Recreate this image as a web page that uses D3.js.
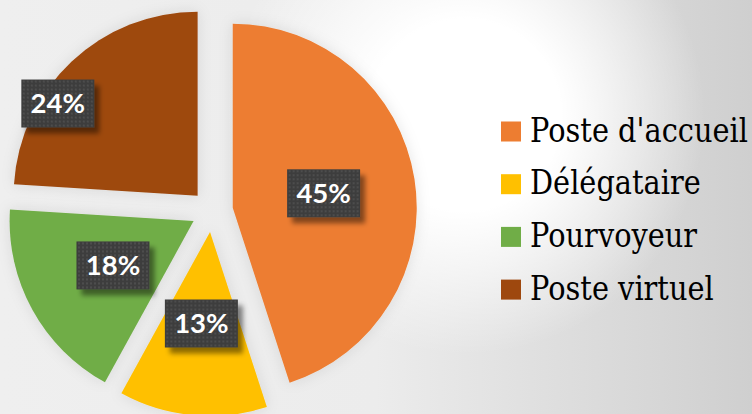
<!DOCTYPE html>
<html>
<head>
<meta charset="utf-8">
<script src="https://cdn.jsdelivr.net/npm/d3@7"></script>
<style>
  html, body { margin: 0; padding: 0; background: #fff; }
  svg { display: block; }
</style>
</head>
<body>
<svg width="752" height="414"></svg>
<script>
// chart data
const categories = ["Poste d'accueil", "Délégataire", "Pourvoyeur", "Poste virtuel"];
const values = [45, 13, 18, 24];
const colors = ["#ED7D31", "#FFC000", "#70AD47", "#9E480E"];

document.addEventListener('DOMContentLoaded', () => {
    const svg = d3.select('svg');
    const width = 752;
    const height = 414;

    const cx = 212, cy = 211;
    const radius = 184;
    const explode = 21;

    const defs = svg.append('defs');

    // background: light grey, brighter toward the middle-right
    const lin = defs.append('linearGradient').attr('id', 'bgLin')
        .attr('gradientUnits', 'userSpaceOnUse')
        .attr('x1', 0).attr('y1', 0).attr('x2', width).attr('y2', 0);
    lin.append('stop').attr('offset', 0).attr('stop-color', '#efefef');
    lin.append('stop').attr('offset', 0.5).attr('stop-color', '#ececec');
    lin.append('stop').attr('offset', 1).attr('stop-color', '#cfcfcf');

    const rad = defs.append('radialGradient').attr('id', 'bgRad')
        .attr('gradientUnits', 'userSpaceOnUse')
        .attr('cx', 465).attr('cy', 115).attr('r', 240);
    rad.append('stop').attr('offset', 0).attr('stop-color', '#ffffff').attr('stop-opacity', 1);
    rad.append('stop').attr('offset', 0.4).attr('stop-color', '#ffffff').attr('stop-opacity', 1);
    rad.append('stop').attr('offset', 1).attr('stop-color', '#ffffff').attr('stop-opacity', 0);

    svg.append('rect').attr('width', width).attr('height', height).attr('fill', 'url(#bgLin)');
    svg.append('rect').attr('width', width).attr('height', height).attr('fill', 'url(#bgRad)');

    // soft halo around slices
    const halo = defs.append('filter').attr('id', 'halo')
        .attr('x', '-20%').attr('y', '-20%').attr('width', '140%').attr('height', '140%');
    halo.append('feDropShadow').attr('dx', 0).attr('dy', 0)
        .attr('stdDeviation', 7).attr('flood-color', '#000').attr('flood-opacity', 0.1);

    // label box shadow
    const boxShadow = defs.append('filter').attr('id', 'boxShadow')
        .attr('x', '-20%').attr('y', '-20%').attr('width', '150%').attr('height', '150%');
    boxShadow.append('feDropShadow').attr('dx', 5).attr('dy', 6)
        .attr('stdDeviation', 2.5).attr('flood-color', '#000').attr('flood-opacity', 0.45);

    // dotted texture for label boxes
    const pat = defs.append('pattern').attr('id', 'dots')
        .attr('patternUnits', 'userSpaceOnUse').attr('width', 4).attr('height', 4);
    pat.append('rect').attr('width', 4).attr('height', 4).attr('fill', '#3d3d3d');
    pat.append('circle').attr('cx', 2).attr('cy', 2).attr('r', 0.9).attr('fill', '#555555');

    const pie = d3.pie().sort(null).value(d => d.value);
    const arc = d3.arc().innerRadius(0).outerRadius(radius);

    const data = categories.map((c, i) => ({ name: c, value: values[i], color: colors[i] }));
    const arcs = pie(data);
    const total = d3.sum(values);

    const offset = (angle, dist) => [Math.sin(angle) * dist, -Math.cos(angle) * dist];

    const pieGroup = svg.append('g').attr('transform', `translate(${cx},${cy})`);

    pieGroup.selectAll('path.slice')
        .data(arcs)
        .enter().append('path')
        .attr('class', 'slice')
        .attr('d', arc)
        .attr('fill', d => d.data.color)
        .attr('filter', 'url(#halo)')
        .attr('transform', d => {
            const mid = (d.startAngle + d.endAngle) / 2;
            const [dx, dy] = offset(mid, explode);
            return `translate(${dx},${dy})`;
        });

    // label placement (the last label was dragged outward in the original)
    const labelPlace = {
        "Poste virtuel": { r: 0.91, angle: 303.4 * Math.PI / 180 }
    };
    const boxW = 73, boxH = 48;

    const labels = pieGroup.selectAll('g.label')
        .data(arcs)
        .enter().append('g')
        .attr('class', 'label')
        .attr('transform', d => {
            const mid = (d.startAngle + d.endAngle) / 2;
            const [ex, ey] = offset(mid, explode);
            const p = labelPlace[d.data.name];
            const [lx, ly] = p ? offset(p.angle, p.r * radius) : offset(mid, 0.5 * radius);
            return `translate(${ex + lx},${ey + ly})`;
        });

    labels.append('rect')
        .attr('x', -boxW / 2).attr('y', -boxH / 2)
        .attr('width', boxW).attr('height', boxH)
        .attr('fill', 'url(#dots)')
        .attr('filter', 'url(#boxShadow)');

    labels.append('text')
        .attr('text-anchor', 'middle')
        .attr('dy', '0.36em')
        .attr('fill', '#ffffff')
        .style('font-family', 'Lato, "Open Sans", sans-serif')
        .style('font-weight', 700)
        .style('font-size', '27.5px')
        .text(d => `${Math.round(d.data.value / total * 100)}%`);

    // legend (only DejaVu Serif is available as a serif, so squeeze it to Times width)
    const legend = svg.append('g');
    const rowStep = 52.7;
    const legendRows = legend.selectAll('g.row')
        .data(data)
        .enter().append('g')
        .attr('class', 'row')
        .attr('transform', (d, i) => `translate(501,${141.5 + i * rowStep})`);

    legendRows.append('rect')
        .attr('x', 0).attr('y', -20)
        .attr('width', 20).attr('height', 20)
        .attr('fill', d => d.color);

    const legendText = legendRows.append('text')
        .attr('fill', '#000')
        .style('font-family', '"DejaVu Serif", serif')
        .style('font-size', '33px')
        .text(d => d.name);

    const firstWidth = legendText.node().getComputedTextLength();
    const squeeze = Math.min(1, 218 / firstWidth);
    legendText.attr('transform', `translate(29,0) scale(${squeeze},1)`);
});
</script>
</body>
</html>
